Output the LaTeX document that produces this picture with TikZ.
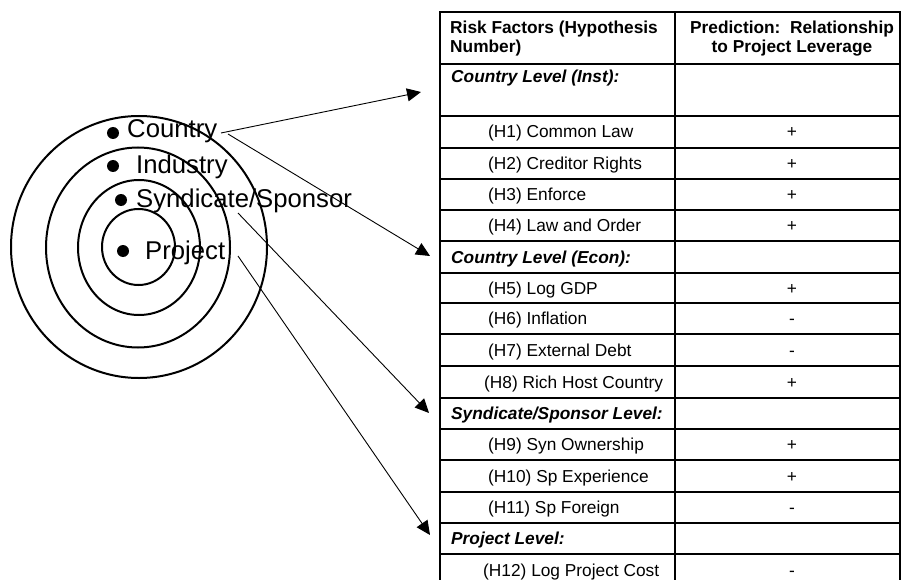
\documentclass[tikz,border=0pt]{standalone}
\usepackage{fontspec}
\setmainfont{Liberation Sans}
\usetikzlibrary{arrows.meta}
\begin{document}
\begin{tikzpicture}[x=1pt,y=-1pt,
  ring/.style={line width=2pt},
  dotmark/.style={circle,fill=black,inner sep=0pt,minimum size=12pt},
  lbl/.style={anchor=base west,inner sep=0pt,font=\fontsize{25.7}{28}\selectfont},
  cell/.style={anchor=base west,inner sep=0pt,font=\fontsize{17.3}{20}\selectfont},
  hdr/.style={inner sep=0pt,font=\fontsize{17.3}{20}\selectfont\bfseries},
  lvl/.style={anchor=base west,inner sep=0pt,font=\fontsize{17.3}{20}\selectfont\bfseries\itshape},
  sgn/.style={anchor=base,inner sep=0pt,font=\fontsize{17.3}{20}\selectfont},
  grid/.style={line width=2.2pt},
  arr/.style={line width=0.9pt,-{Triangle[length=14pt,width=13pt]}}
]
\useasboundingbox (0,0) rectangle (901,580);

% rings
\draw[ring] (139,247) ellipse [x radius=128pt, y radius=131pt];
\draw[ring] (138,247.5) ellipse [x radius=92pt, y radius=100pt];
\draw[ring] (139,247.5) ellipse [x radius=61pt, y radius=67.5pt];
\draw[ring] (138.5,247) ellipse [x radius=36.5pt, y radius=38pt];

% dots and labels
\node[dotmark] (d1) at (113,133) {};
\node[dotmark] (d2) at (113,166) {};
\node[dotmark] (d3) at (121,200) {};
\node[dotmark] (d4) at (123,251) {};
\node[lbl] (country) at (127,138) {Country};
\node[lbl] (industry) at (136,173) {Industry};
\node[lbl] (syndicate) at (136,207) {Syndicate/Sponsor};
\node[lbl] (project) at (145,259) {Project};

% table grid
\draw[grid] (440,12) -- (440,580);
\draw[grid] (675,12) -- (675,580);
\draw[grid] (900,12) -- (900,580);
\foreach \yy in {12,64,116,148,179,210,241,273,303,334,366,398,429,460,492,523,554}
  \draw[grid] (439,\yy) -- (901,\yy);

% header
\node[hdr,anchor=base west] (hA1) at (450,34) {Risk Factors (Hypothesis};
\node[hdr,anchor=base west] (hA2) at (450,53) {Number)};
\node[hdr,anchor=base] (hB1) at (792,34) {Prediction:\ \ Relationship};
\node[hdr,anchor=base] (hB2) at (792,53) {to Project Leverage};

% levels
\node[lvl] (lv1) at (451,83) {Country Level (Inst):};
\node[lvl] (lv2) at (451,263) {Country Level (Econ):};
\node[lvl] (lv3) at (451,419.5) {Syndicate/Sponsor Level:};
\node[lvl] (lv4) at (451,544.5) {Project Level:};

% rows
\node[cell] (h1) at (488,138) {(H1) Common Law};
\node[cell] (h2) at (488,169.5) {(H2) Creditor Rights};
\node[cell] (h3) at (488,200.5) {(H3) Enforce};
\node[cell] (h4) at (488,231.5) {(H4) Law and Order};
\node[cell] (h5) at (488,294) {(H5) Log GDP};
\node[cell] (h6) at (488,324.5) {(H6) Inflation};
\node[cell] (h7) at (488,356) {(H7) External Debt};
\node[cell] (h8) at (484,388) {(H8) Rich Host Country};
\node[cell] (h9) at (488,450.5) {(H9) Syn Ownership};
\node[cell] (h10) at (488,482) {(H10) Sp Experience};
\node[cell] (h11) at (488,513.5) {(H11) Sp Foreign};
\node[cell] (h12) at (483,576) {(H12) Log Project Cost};

% signs
\node[sgn] (s1) at (792,138) {+};
\node[sgn] (s2) at (792,169.5) {+};
\node[sgn] (s3) at (792,200.5) {+};
\node[sgn] (s4) at (792,231.5) {+};
\node[sgn] (s5) at (792,294) {+};
\node[sgn] (s6) at (792,324.5) {-};
\node[sgn] (s7) at (792,356) {-};
\node[sgn] (s8) at (792,388) {+};
\node[sgn] (s9) at (792,450.5) {+};
\node[sgn] (s10) at (792,482) {+};
\node[sgn] (s11) at (792,513.5) {-};
\node[sgn] (s12) at (792,576) {-};

% arrows
\coordinate (a1s) at (221,133);
\coordinate (a1t) at (421,92);
\coordinate (a2s) at (228,134);
\coordinate (a2t) at (430,256);
\coordinate (a3s) at (238,213);
\coordinate (a3t) at (429,413);
\coordinate (a4s) at (238,256);
\coordinate (a4t) at (430,535);
\draw[arr] (a1s) -- (a1t);
\draw[arr] (a2s) -- (a2t);
\draw[arr] (a3s) -- (a3t);
\draw[arr] (a4s) -- (a4t);
\end{tikzpicture}
\end{document}
